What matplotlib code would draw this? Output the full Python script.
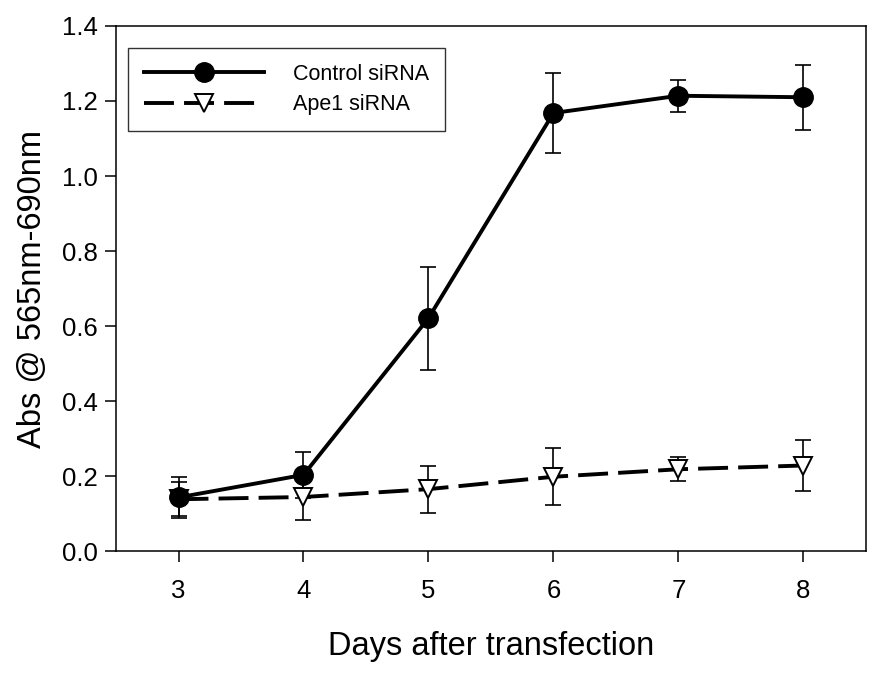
import matplotlib
matplotlib.use("Agg")
import matplotlib.pyplot as plt

plt.rcParams['font.family'] = ['Liberation Sans', 'DejaVu Sans']

days = [3, 4, 5, 6, 7, 8]
control_mean = [0.143, 0.203, 0.621, 1.168, 1.214, 1.210]
control_err = [0.054, 0.061, 0.137, 0.107, 0.043, 0.087]
ape1_mean = [0.138, 0.144, 0.165, 0.198, 0.218, 0.228]
ape1_err = [0.045, 0.061, 0.063, 0.076, 0.032, 0.068]
labels = ["Control siRNA", "Ape1 siRNA"]

fig = plt.figure(figsize=(8.75, 6.77), dpi=100)
ax = fig.add_axes([0.1326, 0.1861, 0.857, 0.7755])

lw = 2.8
# error bars
ax.errorbar(days, control_mean, yerr=control_err, fmt='none', ecolor='black',
            elinewidth=1.2, capsize=5.8, capthick=1.2, zorder=2)
ax.errorbar(days, ape1_mean, yerr=ape1_err, fmt='none', ecolor='black',
            elinewidth=1.2, capsize=5.8, capthick=1.2, zorder=2)
# lines + markers
ax.plot(days, control_mean, color='black', lw=lw, marker='o', markersize=14,
        markerfacecolor='black', markeredgecolor='black', label=labels[0], zorder=4)
ax.plot(days, ape1_mean, color='black', lw=lw, linestyle=(0, (7.7, 2.6)),
        marker='v', markersize=12.5, markerfacecolor='white', markeredgecolor='black',
        markeredgewidth=1.4, label=labels[1], zorder=3)

ax.set_xlim(2.5, 8.5)
ax.set_ylim(0, 1.4)
ax.set_xticks(days)
ax.set_yticks([0.0, 0.2, 0.4, 0.6, 0.8, 1.0, 1.2, 1.4])
ax.set_yticklabels(["0.0", "0.2", "0.4", "0.6", "0.8", "1.0", "1.2", "1.4"])
ax.tick_params(axis='both', direction='out', length=8, width=1.1, labelsize=18.5)
ax.tick_params(axis='x', pad=12)
ax.tick_params(axis='y', pad=5)
for s in ax.spines.values():
    s.set_linewidth(1.1)

ax.set_xlabel("Days after transfection", fontsize=23.5, labelpad=20)
ax.set_ylabel("Abs @ 565nm-690nm", fontsize=23.5, labelpad=10)

leg = ax.legend(loc='upper left', bbox_to_anchor=(0.016, 0.958), borderaxespad=0,
                fontsize=15.5, handlelength=5.6, handletextpad=1.35, borderpad=0.72,
                labelspacing=0.45, numpoints=1, fancybox=False, framealpha=1,
                edgecolor='#333333')
leg.get_frame().set_linewidth(1.0)

fig.savefig("out.png", dpi=100)
